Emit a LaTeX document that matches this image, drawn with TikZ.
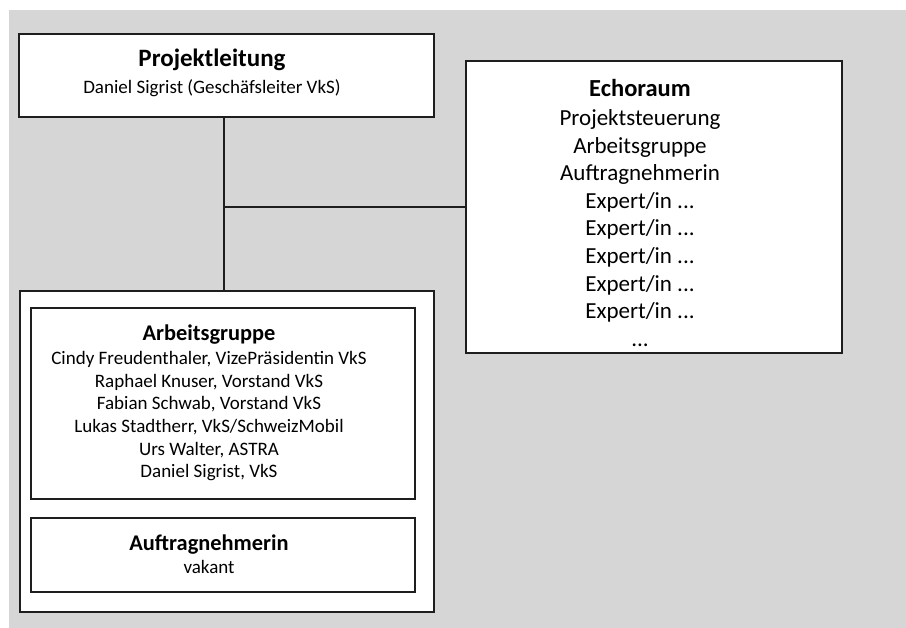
\documentclass[tikz,border=0pt]{standalone}
\usepackage{fontspec}
\setmainfont{Carlito}
\usepackage{tikz}
\usetikzlibrary{positioning}
\definecolor{bggray}{RGB}{214,214,214}
\definecolor{edgeblack}{RGB}{30,30,30}

\begin{document}
\begin{tikzpicture}[x=1pt,y=-1pt,
    box/.style={draw=edgeblack,line width=1.2pt,fill=white,rectangle,inner sep=0pt},
    txt/.style={align=center,inner sep=0pt,font=\fontsize{19}{22.7}\selectfont}]
   \useasboundingbox (0,0) rectangle (906,628);
   \fill[bggray] (9,10) rectangle (906,628);
   % boxes
   \node[box,minimum width=415pt,minimum height=83pt] (leitung) at (226.5,75.5) {};
   \node[box,minimum width=376pt,minimum height=292pt] (echo) at (654,207) {};
   \node[box,minimum width=414pt,minimum height=321pt] (team) at (227,451.5) {};
   \node[box,minimum width=384pt,minimum height=191pt] (ag) at (223,403.5) {};
   \node[box,minimum width=384pt,minimum height=74pt] (auftrag) at (223,555) {};
   % texts
   \node[txt] (leitungtxt) at (212,73) {{\bfseries\fontsize{25}{28}\selectfont Projektleitung}\\[4pt]
      Daniel Sigrist (Geschäfsleiter VkS)};
   \node[txt,font=\fontsize{23}{27.6}\selectfont] (echotxt) at (640,213) {{\bfseries\fontsize{24.5}{29}\selectfont Echoraum}\\[1pt]
      Projektsteuerung\\ Arbeitsgruppe\\ Auftragnehmerin\\
      Expert/in ...\\ Expert/in ...\\ Expert/in ...\\ Expert/in ...\\ Expert/in ...\\ ...};
   \node[txt] (agtxt) at (209,403) {{\bfseries\fontsize{22.4}{26}\selectfont Arbeitsgruppe}\\[1pt]
      Cindy Freudenthaler, VizePräsidentin VkS\\
      Raphael Knuser, Vorstand VkS\\
      Fabian Schwab, Vorstand VkS\\
      Lukas Stadtherr, VkS/SchweizMobil\\
      Urs Walter, ASTRA\\
      Daniel Sigrist, VkS};
   \node[txt] (auftragtxt) at (209,554) {{\bfseries\fontsize{22.4}{26}\selectfont Auftragnehmerin}\\
      vakant};
   % connectors
   \coordinate (jn) at (224,207);
   \draw[edgeblack,line width=1.2pt] (leitung.south -| jn) -- (team.north -| jn);
   \draw[edgeblack,line width=1.2pt] (jn) -- (echo.west |- jn);
\end{tikzpicture}
\end{document}
